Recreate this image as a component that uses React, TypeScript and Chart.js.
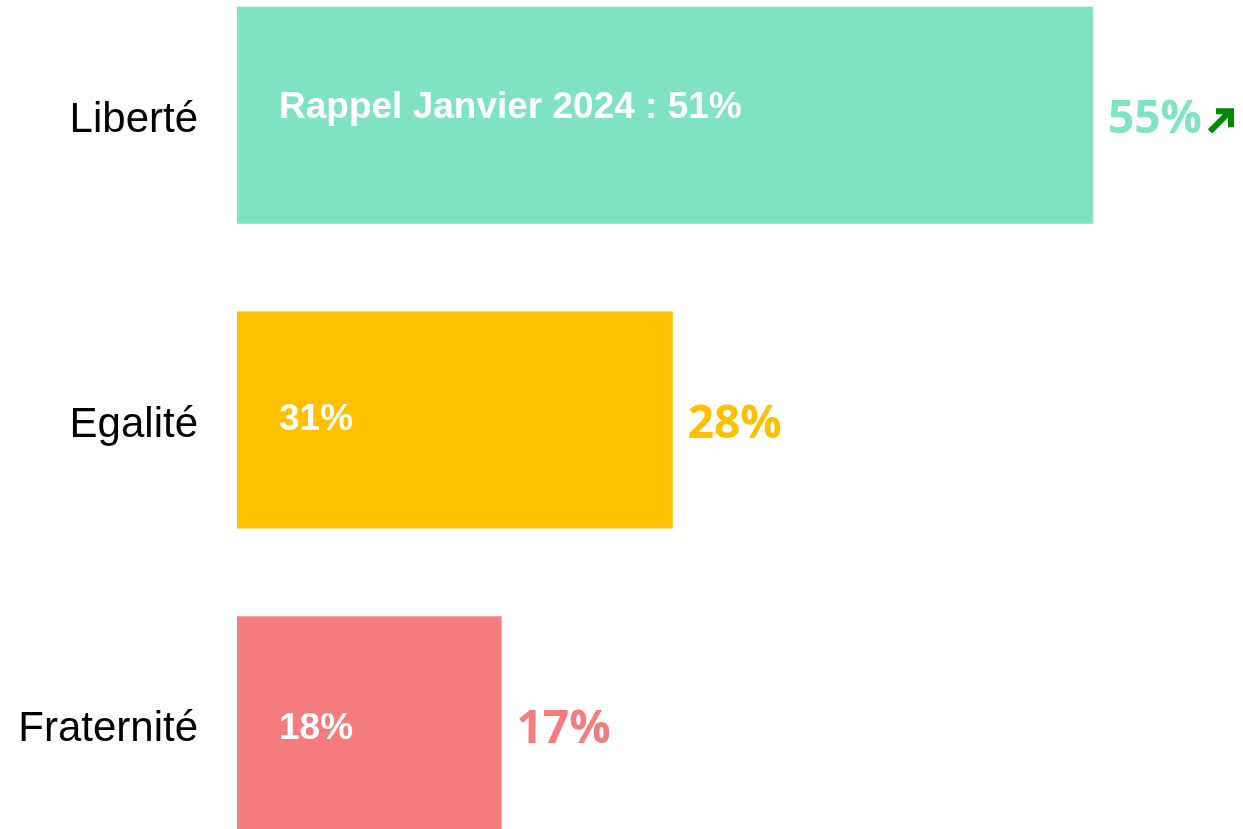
import React, { useEffect, useRef } from "react";
import { Chart, registerables } from "chart.js";

Chart.register(...registerables);

const categories = ["Liberté", "Egalité", "Fraternité"];
const values = [55, 28, 17];
const valueLabels = ["55%", "28%", "17%"];
const innerLabels = ["Rappel Janvier 2024 : 51%", "31%", "18%"];
const trends = ["up", "", ""];
const barColors = ["#7FE3C3", "#FFC000", "#F47C7C"];

const labelPlugin = {
  id: "barLabels",
  afterDatasetsDraw(chart: any) {
    const ctx = chart.ctx;
    const meta = chart.getDatasetMeta(0);
    const innerDy = [-8, 0, 4];
    meta.data.forEach((bar: any, i: number) => {
      ctx.save();
      // inner label
      ctx.font = 'bold 37px "Liberation Sans", Arial, sans-serif';
      ctx.fillStyle = "#FFFFFF";
      ctx.textAlign = "left";
      ctx.textBaseline = "middle";
      ctx.fillText(innerLabels[i], bar.base + 42, bar.y + innerDy[i]);
      // value label
      ctx.font = 'bold 46px "Open Sans", sans-serif';
      ctx.fillStyle = barColors[i];
      const vx = bar.x + 15;
      ctx.fillText(valueLabels[i], vx, bar.y + 5);
      const w = ctx.measureText(valueLabels[i]).width;
      if (trends[i] === "up") {
        const ax = vx + w + 6;
        const ay = bar.y + 18;
        ctx.strokeStyle = "#008A00";
        ctx.fillStyle = "#008A00";
        ctx.lineWidth = 6;
        ctx.lineCap = "butt";
        ctx.beginPath();
        ctx.moveTo(ax + 2, ay - 2);
        ctx.lineTo(ax + 20, ay - 20);
        ctx.stroke();
        ctx.beginPath();
        ctx.moveTo(ax + 26, ay - 25);
        ctx.lineTo(ax + 8, ay - 25);
        ctx.lineTo(ax + 8, ay - 19);
        ctx.lineTo(ax + 20, ay - 19);
        ctx.lineTo(ax + 20, ay - 6);
        ctx.lineTo(ax + 26, ay - 6);
        ctx.closePath();
        ctx.fill();
      }
      ctx.restore();
    });
  },
};

export default function App() {
  const canvasRef = useRef<HTMLCanvasElement>(null);

  useEffect(() => {
    document.body.style.margin = "0";
    const canvas = canvasRef.current;
    if (!canvas) return;
    const chart = new Chart(canvas, {
      type: "bar",
      data: {
        labels: categories,
        datasets: [
          {
            data: values,
            backgroundColor: barColors,
            borderWidth: 0,
            categoryPercentage: 1,
            barPercentage: 0.712,
          },
        ],
      },
      options: {
        indexAxis: "y",
        responsive: false,
        animation: false,
        layout: { padding: { left: 0, right: 10, top: 0, bottom: 0 } },
        plugins: {
          legend: { display: false },
          tooltip: { enabled: false },
        },
        scales: {
          x: {
            display: false,
            min: 0,
            max: 64,
          },
          y: {
            grid: { display: false, drawTicks: false },
            border: { display: false },
            ticks: {
              color: "#000000",
              padding: 39,
              labelOffset: 5,
              font: { family: '"Liberation Sans", Arial, sans-serif', size: 42 },
            },
            afterFit(scale: any) {
              scale.width = 237;
              scale.paddingTop = 0;
              scale.paddingBottom = 0;
            },
          },
        },
      },
      plugins: [labelPlugin],
    });
    return () => chart.destroy();
  }, []);

  return (
    <div style={{ position: "relative", width: 1243, height: 829, overflow: "hidden" }}>
      <canvas
        ref={canvasRef}
        width={1243}
        height={914}
        style={{ position: "absolute", left: 0, top: -37, width: 1243, height: 914 }}
      />
    </div>
  );
}
